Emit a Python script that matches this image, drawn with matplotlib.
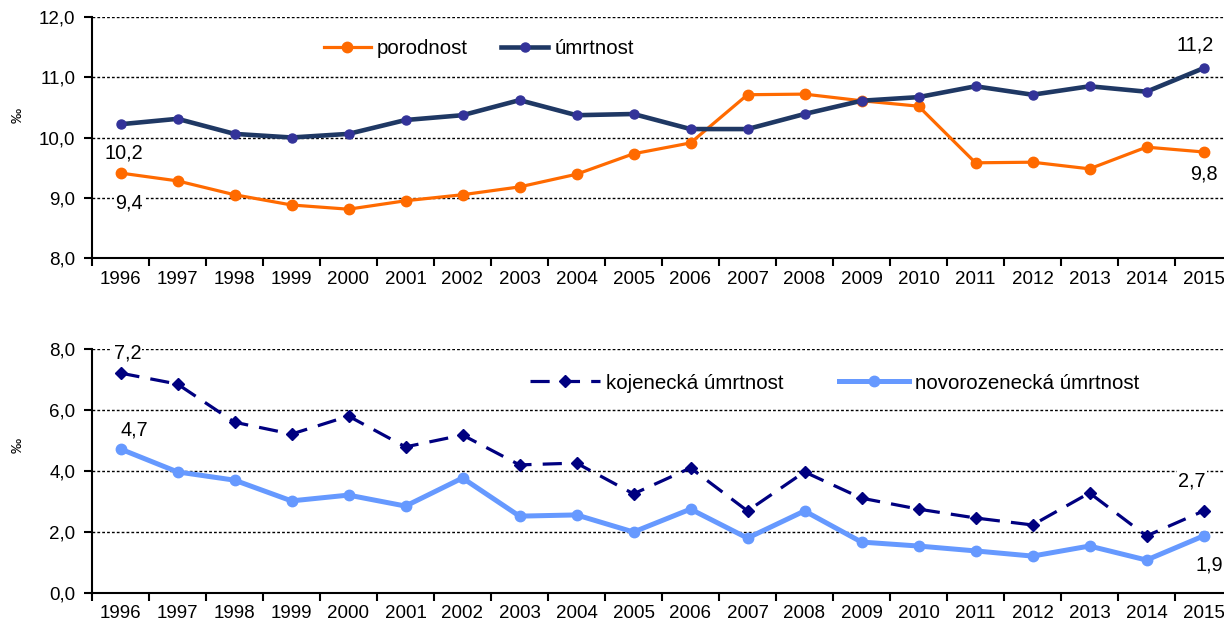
import matplotlib.pyplot as plt
import numpy as np

plt.rcParams['font.family'] = ['Liberation Sans', 'DejaVu Sans']

roky = [str(r) for r in range(1996, 2016)]

porodnost = [9.41, 9.28, 9.05, 8.88, 8.81, 8.95, 9.05, 9.18, 9.39, 9.73,
             9.91, 10.71, 10.72, 10.61, 10.52, 9.58, 9.59, 9.48, 9.84, 9.76]
umrtnost = [10.22, 10.31, 10.06, 10.00, 10.06, 10.29, 10.37, 10.62, 10.37, 10.39,
            10.14, 10.14, 10.39, 10.61, 10.67, 10.85, 10.71, 10.85, 10.76, 11.15]

kojenecka = [7.21, 6.85, 5.60, 5.21, 5.80, 4.79, 5.18, 4.20, 4.26, 3.25,
             4.10, 2.69, 3.97, 3.11, 2.75, 2.46, 2.23, 3.28, 1.87, 2.69]
novorozenecka = [4.72, 3.97, 3.70, 3.02, 3.21, 2.85, 3.77, 2.52, 2.56, 2.00,
                 2.75, 1.80, 2.69, 1.67, 1.54, 1.38, 1.21, 1.54, 1.08, 1.87]

fs = 13.5
fs_leg = 14.8
x = np.arange(len(roky))

fig = plt.figure(figsize=(12.24, 6.25), dpi=100)
ax1 = fig.add_axes([92/1224, 1 - 258/625, (1232 - 92)/1224, 241/625])
ax2 = fig.add_axes([92/1224, 1 - 593/625, (1232 - 92)/1224, 244/625])


def styl(ax, ymin, ymax, step):
    ax.set_xlim(-0.5, len(roky) - 0.5)
    ax.set_ylim(ymin, ymax)
    yt = np.arange(ymin, ymax + 0.001, step)
    ax.set_yticks(yt)
    ax.set_yticklabels([('%.1f' % v).replace('.', ',') for v in yt], fontsize=fs)
    ax.set_xticks(np.arange(-0.5, len(roky)), labels=[])
    ax.set_xticks(x, minor=True)
    ax.set_xticklabels(roky, minor=True, fontsize=fs)
    ax.tick_params(axis='x', which='major', length=6, width=1.5, direction='out')
    ax.tick_params(axis='x', which='minor', length=0, pad=9)
    ax.tick_params(axis='y', length=6, width=1.5, pad=6)
    for s in ['top', 'right']:
        ax.spines[s].set_visible(False)
    ax.spines['left'].set_linewidth(1.5)
    ax.spines['bottom'].set_linewidth(1.5)
    for v in yt[1:]:
        ax.axhline(v, color='black', lw=1, ls=(0, (2, 1.5)), zorder=0)


def popisek(ax, xi, yv, txt):
    ax.text(xi, yv, txt, fontsize=14.3, ha='center', va='center', zorder=5,
            bbox=dict(facecolor='white', edgecolor='none', pad=1))


# horní graf
styl(ax1, 8, 12, 1)
ax1.plot(x, porodnost, color='#FF6A00', lw=2.3, marker='o', ms=7.5,
         label='porodnost', zorder=3)
ax1.plot(x, umrtnost, color='#1F3864', lw=3.3, marker='o', ms=6.5,
         mfc='#333399', mec='#333399', label='úmrtnost', zorder=4)
ax1.legend(loc='upper left', bbox_to_anchor=(0.187, 0.985), ncol=2,
           frameon=False, fontsize=fs_leg, handlelength=2.3,
           columnspacing=1.6, handletextpad=0.3)
popisek(ax1, 0.05, 10.24 - 0.5, '10,2')
popisek(ax1, 0.15, 9.41 - 0.5, '9,4')
popisek(ax1, 18.85, 11.15 + 0.38, '11,2')
popisek(ax1, 19.0, 9.76 - 0.37, '9,8')

# dolní graf
styl(ax2, 0, 8, 2)
ax2.plot(x, kojenecka, color='#000080', lw=2.3, ls=(0, (6, 3.5)),
         marker='D', ms=6, label='kojenecká úmrtnost', zorder=4)
ax2.plot(x, novorozenecka, color='#6699FF', lw=3.6, marker='o', ms=7.5,
         label='novorozenecká úmrtnost', zorder=3)
ax2.legend(loc='upper left', bbox_to_anchor=(0.368, 0.975), ncol=2,
           frameon=False, fontsize=fs_leg, handlelength=3.4,
           columnspacing=2.7, handletextpad=0.3)
popisek(ax2, 0.12, 7.21 + 0.67, '7,2')
popisek(ax2, 0.25, 4.72 + 0.63, '4,7')
popisek(ax2, 18.8, 2.69 + 0.98, '2,7')
popisek(ax2, 19.1, 1.87 - 0.95, '1,9')

fig.text(18/1224, 1 - 115/625, '‰', rotation=90, fontsize=11,
         ha='center', va='center')
fig.text(18/1224, 1 - 445/625, '‰', rotation=90, fontsize=11,
         ha='center', va='center')

fig.savefig('out.png', dpi=100)
